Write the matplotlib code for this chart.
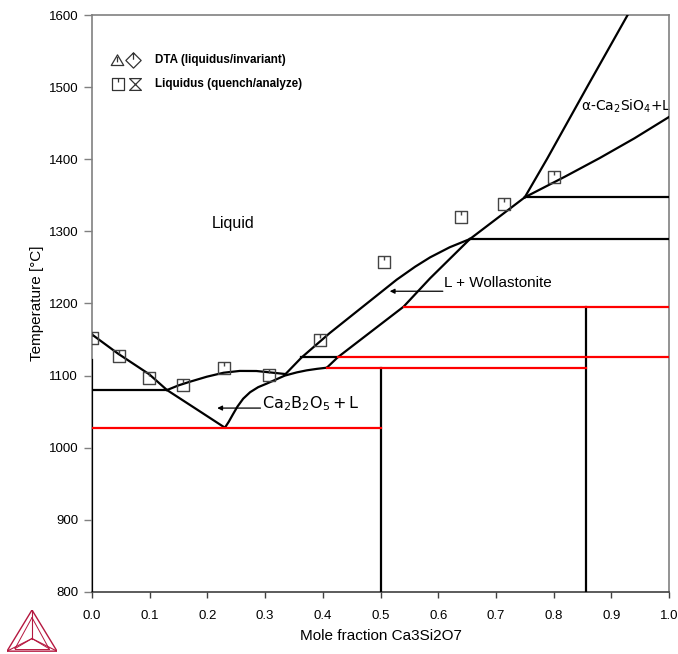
import matplotlib
matplotlib.use("Agg")
import matplotlib.pyplot as plt
from matplotlib.path import Path

# ---- phase boundaries: mole fraction Ca3Si2O7 vs temperature (°C) ----
liq_left_x = [0.000, 0.046, 0.099, 0.130, 0.182, 0.230]
liq_left_T = [1157, 1130, 1102, 1080, 1053, 1028]

b2o5_liq_x = [0.130, 0.150, 0.170, 0.199, 0.228, 0.256, 0.285, 0.314, 0.334]
b2o5_liq_T = [1080, 1086.5, 1091.6, 1098.5, 1104.0, 1106.5, 1106.4, 1104.0, 1102.3]

b2o5_low_x = [0.2305, 0.237, 0.244, 0.252, 0.262, 0.274, 0.288, 0.303, 0.320,
              0.334, 0.355, 0.372, 0.390, 0.407]
b2o5_low_T = [1028, 1036, 1046, 1057, 1068, 1077, 1084, 1089, 1095,
              1100, 1104.5, 1107.3, 1109.4, 1111]

wol_liq_x = [0.334, 0.363, 0.412, 0.470, 0.528, 0.560, 0.586, 0.620, 0.655]
wol_liq_T = [1101, 1125, 1159, 1196, 1233, 1251, 1264, 1278, 1289.4]

wol_low_x = [0.407, 0.426, 0.540, 0.586, 0.655]
wol_low_T = [1111, 1125.5, 1195.6, 1235, 1289.4]

mid_x = [0.655, 0.750]
mid_T = [1289.4, 1347.2]

c2s_liq_x = [0.750, 0.789, 0.860, 0.929]
c2s_liq_T = [1347.2, 1401, 1503, 1601]

c2s_low_x = [0.750, 0.820, 0.880, 0.940, 1.000]
c2s_low_T = [1347.2, 1376, 1401.7, 1429, 1458.6]

# invariant lines: (x_start, x_end, T)
black_h = [(0.000, 0.130, 1080), (0.363, 0.426, 1125.5),
           (0.655, 1.000, 1289.5), (0.750, 1.000, 1347.2)]
red_h = [(0.000, 0.500, 1027), (0.407, 0.857, 1111),
         (0.426, 1.000, 1125.5), (0.540, 1.000, 1195.6)]
# vertical lines: (x, T_low, T_high)
black_v = [(0.000, 800, 1122), (0.500, 800, 1111), (0.857, 800, 1195.6)]

# ---- experimental liquidus (quench/analyze) ----
quench_x = [0.000, 0.046, 0.099, 0.158, 0.228, 0.306, 0.395, 0.506, 0.639, 0.714, 0.800]
quench_T = [1152, 1127, 1097, 1087, 1111, 1101, 1149, 1257, 1320, 1338, 1376]

x_ticks = [0.0, 0.1, 0.2, 0.3, 0.4, 0.5, 0.6, 0.7, 0.8, 0.9, 1.0]
y_ticks = [800, 900, 1000, 1100, 1200, 1300, 1400, 1500, 1600]

# ---- marker shapes ----
M, L, C = Path.MOVETO, Path.LINETO, Path.CLOSEPOLY
sq_tick = Path([(-1, -1), (1, -1), (1, 1), (-1, 1), (-1, -1), (0, 1), (0, 0.3)],
               [M, L, L, L, C, M, L])
tri_tick = Path([(-1, -0.8), (1, -0.8), (0, 0.9), (-1, -0.8), (0, 0.55), (0, -0.3)],
                [M, L, L, C, M, L])
dia_tick = Path([(0, 1), (1, 0), (0, -1), (-1, 0), (0, 1), (0, 1), (0, 0.1)],
                [M, L, L, L, C, M, L])
hourglass = Path([(-1, 1), (1, 1), (-1, -1), (1, -1), (-1, 1)],
                 [M, L, L, L, C])

plt.rcParams['font.family'] = ['Liberation Sans', 'DejaVu Sans']

fig = plt.figure(figsize=(6.78, 6.54), dpi=100)
ax = fig.add_axes([92 / 678, 1 - 592 / 654, 577 / 678, 577 / 654])

lw = 1.6
for xs, Ts in [(liq_left_x, liq_left_T), (b2o5_liq_x, b2o5_liq_T),
               (b2o5_low_x, b2o5_low_T), (wol_liq_x, wol_liq_T),
               (wol_low_x, wol_low_T), (mid_x, mid_T),
               (c2s_liq_x, c2s_liq_T), (c2s_low_x, c2s_low_T)]:
    ax.plot(xs, Ts, color='black', lw=lw, solid_joinstyle='round', zorder=3)

for x0, x1, T in black_h:
    ax.plot([x0, x1], [T, T], color='black', lw=lw, zorder=3)
for x, T0, T1 in black_v:
    ax.plot([x, x], [T0, T1], color='black', lw=lw, zorder=3)
for x0, x1, T in red_h:
    ax.plot([x0, x1], [T, T], color='#ff0000', lw=lw, zorder=4)

ax.plot(quench_x, quench_T, linestyle='none', marker=sq_tick, markersize=8,
        markerfacecolor='none', markeredgecolor='#444444', markeredgewidth=1.0,
        zorder=5)

# region labels
ax.text(0.208, 1311, 'Liquid', fontsize=11.5, va='center', ha='left')
ax.text(0.610, 1229, 'L + Wollastonite', fontsize=11, va='center', ha='left')
ax.text(0.295, 1061, r'Ca$_2$B$_2$O$_5\,$+$\,$L', fontsize=11.5, va='center',
        ha='left', family='DejaVu Sans')
ax.text(0.848, 1474, r'α-Ca$_2$SiO$_4$+L', fontsize=10, va='center', ha='left',
        family='DejaVu Sans', zorder=1)

arrow = dict(arrowstyle='-|>', color='black', lw=0.9, mutation_scale=7,
             shrinkA=0, shrinkB=0)
ax.annotate('', xy=(0.516, 1217), xytext=(0.608, 1217), arrowprops=arrow)
ax.annotate('', xy=(0.217, 1055), xytext=(0.292, 1055), arrowprops=arrow)

# symbol key
key_kw = dict(linestyle='none', markerfacecolor='none', markeredgecolor='#333333',
              markeredgewidth=0.9, transform=ax.transAxes, clip_on=False)
ax.plot([0.0433], [0.9225], marker=tri_tick, markersize=9, **key_kw)
ax.plot([0.0710], [0.9225], marker=dia_tick, markersize=11, **key_kw)
ax.plot([0.0450], [0.8800], marker=sq_tick, markersize=8, **key_kw)
ax.plot([0.0745], [0.8800], marker=hourglass, markersize=8.5, **key_kw)
ax.text(0.1092, 0.9225, 'DTA (liquidus/invariant)', transform=ax.transAxes,
        fontsize=8.4, fontweight='bold', va='center', ha='left')
ax.text(0.1092, 0.8800, 'Liquidus (quench/analyze)', transform=ax.transAxes,
        fontsize=8.4, fontweight='bold', va='center', ha='left')

ax.set_xlim(0, 1)
ax.set_ylim(800, 1600)
ax.set_xticks(x_ticks)
ax.set_xticklabels([f'{v:.1f}' for v in x_ticks])
ax.set_yticks(y_ticks)
ax.set_yticklabels([str(v) for v in y_ticks])
ax.tick_params(axis='y', direction='out', length=6, width=1, color='#808080',
               pad=4, labelsize=9.5)
ax.tick_params(axis='x', direction='out', length=4, width=1, color='#404040',
               pad=9, labelsize=9.5)
for side in ['top', 'left', 'right']:
    ax.spines[side].set_color('#808080')
    ax.spines[side].set_linewidth(1.2)
ax.spines['bottom'].set_color('#404040')
ax.spines['bottom'].set_linewidth(1.2)

ax.set_xlabel('Mole fraction Ca3Si2O7', fontsize=11, labelpad=5)
ax.set_ylabel('Temperature [°C]', fontsize=11, labelpad=3)

# logo in the lower-left corner
lg = fig.add_axes([7 / 678, 2 / 654, 50 / 678, 42 / 654])
lg.set_xlim(0, 1)
lg.set_ylim(0, 1)
lg.axis('off')
red = '#b5173f'
A, B, Cc = (0.5, 1.0), (0.0, 0.02), (1.0, 0.02)
cen = (0.5, 0.32)
lg.plot([A[0], B[0], Cc[0], A[0]], [A[1], B[1], Cc[1], A[1]], color=red, lw=1.0)
for v in (A, B, Cc):
    lg.plot([v[0], cen[0]], [v[1], cen[1]], color=red, lw=0.8)
inner = [(0.5, 0.82), (0.16, 0.08), (0.84, 0.08)]
for v in inner:
    lg.plot([v[0], cen[0]], [v[1], cen[1]], color=red, lw=0.7)
lg.plot([inner[1][0], inner[2][0]], [inner[1][1], inner[2][1]], color=red, lw=0.7)
lg.plot([inner[0][0], inner[1][0]], [inner[0][1], inner[1][1]], color=red, lw=0.7)
lg.plot([inner[0][0], inner[2][0]], [inner[0][1], inner[2][1]], color=red, lw=0.7)

fig.savefig('out.png', dpi=100)
